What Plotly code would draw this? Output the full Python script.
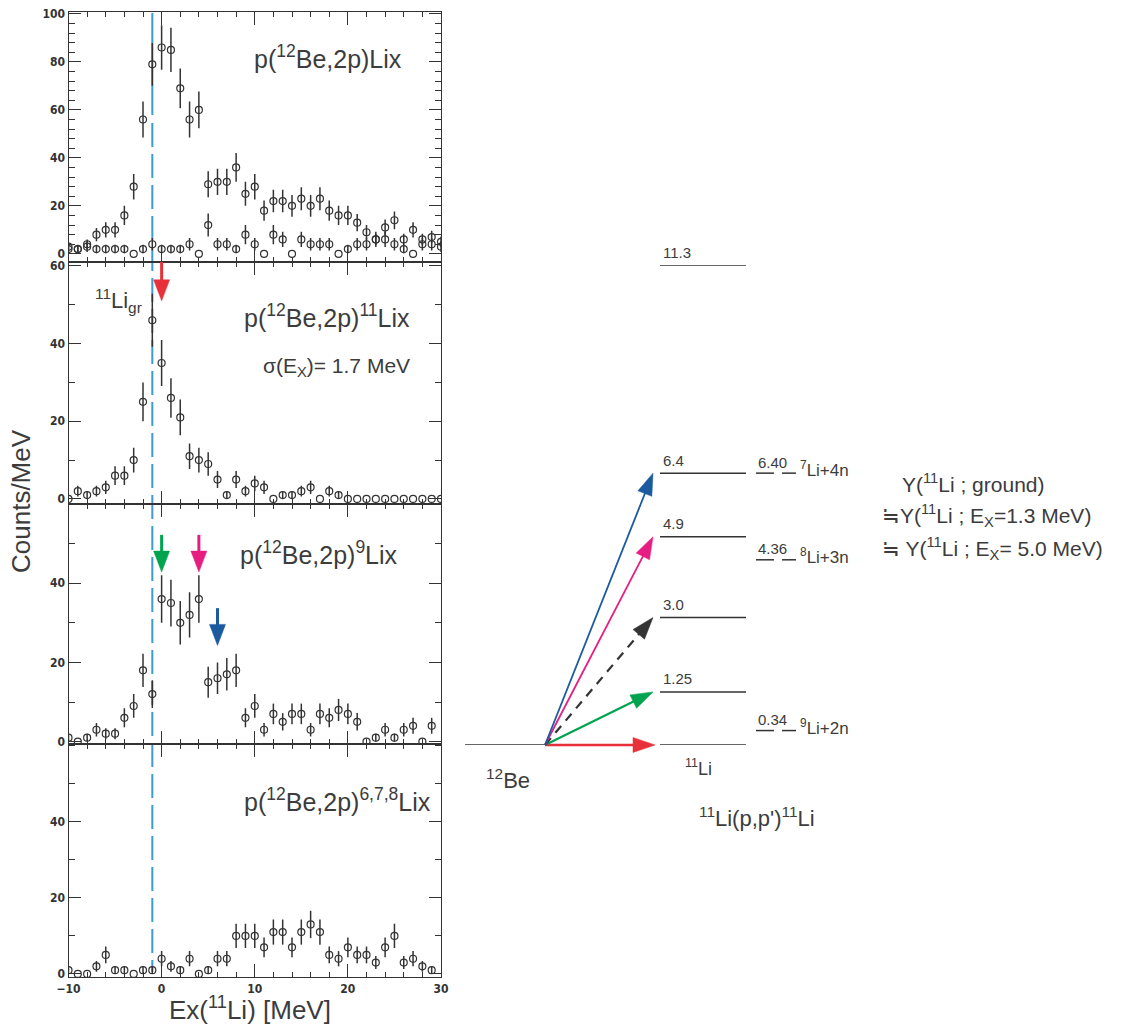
import math
import plotly.graph_objects as go

W, H = 1130, 1026

# ---------------- data ----------------
ex = list(range(-10, 31))

p1_total = [3, 2, 4, 8, 10, 10, 16, 28, 56, 79, 86, 85, 69, 56, 60, 29, 30, 30, 36, 25, 28,
            18, 22, 22, 20, 23, 20, 23, 18, 16, 16, 13, 9, 6, 11, 14, 6, 10, 6, 7, 5]
p1_total_err = [1.7, 1.4, 2.0, 2.8, 3.2, 3.2, 4.0, 5.3, 7.5, 8.9, 9.3, 9.2, 8.3, 7.5, 7.7, 5.4, 5.5,
                5.5, 6.0, 5.0, 5.3, 4.2, 4.7, 4.7, 4.5, 4.8, 4.5, 4.8, 4.2, 4.0, 4.0, 3.6, 3.0, 2.4,
                3.3, 3.7, 2.4, 3.2, 2.4, 2.6, 2.2]
p1_sub = [2, 2, 3, 2, 2, 2, 2, 0, 2, 4, 2, 2, 2, 4, 0, 12, 4, 4, 2, 8, 4,
          0, 8, 6, 0, 6, 4, 4, 4, 0, 2, 4, 4, 6, 6, 4, 2, 0, 4, 4, 3]
p1_sub_err = [1.8, 1.8, 2.2, 1.8, 1.8, 1.8, 1.8, 0, 1.8, 2.6, 1.8, 1.8, 1.8, 2.6, 0, 4.8, 2.6, 2.6,
              1.8, 4.0, 2.6, 0, 4.0, 3.2, 0, 3.2, 2.6, 2.6, 2.6, 0, 1.8, 2.6, 2.6, 3.2, 3.2, 2.6,
              1.8, 0, 2.6, 2.6, 2.2]

p2_vals = [0, 2, 1, 2, 3, 6, 6, 10, 25, 46, 35, 26, 21, 11, 10, 9, 5, 1, 5, 2, 4,
           3, 0, 1, 1, 2, 3, 0, 2, 1, 0, 0, 0, 0, 0, 0, 0, 0, 0, 0, 0]
p2_err = [0, 1.4, 1.0, 1.4, 1.7, 2.4, 2.4, 3.2, 5.0, 6.8, 5.9, 5.1, 4.6, 3.3, 3.2, 3.0, 2.2, 1.0,
          2.2, 1.4, 2.0, 1.7, 0, 1.0, 1.0, 1.4, 1.7, 0, 1.4, 1.0, 0, 0, 0, 0, 0, 0, 0, 0, 0, 0, 0]

p3_vals = [1, 0, 1, 3, 2, 2, 6, 9, 18, 12, 36, 35, 30, 32, 36, 15, 16, 17, 18, 6, 9,
           3, 7, 5, 7, 7, 3, 7, 6, 8, 7, 5, 0, 1, 3, 1, 3, 4, 0, 4, None]
p3_err = [1.0, 0, 1.0, 1.7, 1.4, 1.4, 2.4, 3.0, 4.2, 3.5, 6.0, 5.9, 5.5, 5.7, 6.0, 3.9, 4.0, 4.1,
          4.2, 2.4, 3.0, 1.7, 2.6, 2.2, 2.6, 2.6, 1.7, 2.6, 2.4, 2.8, 2.6, 2.2, 0, 1.0, 1.7, 1.0,
          1.7, 2.0, 0, 2.0, 0]

p4_vals = [1, 0, 0, 2, 5, 1, 1, 0, 1, 1, 4, 2, 1, 4, 0, 1, 4, 4, 10, 10, 10,
           7, 11, 11, 7, 11, 13, 11, 5, 4, 7, 5, 5, 3, 7, 10, 3, 4, 2, 1, None]
p4_err = [1.0, 0, 0, 1.4, 2.2, 1.0, 1.0, 0, 1.0, 1.0, 2.0, 1.4, 1.0, 2.0, 0, 1.0, 2.0, 2.0, 3.2,
          3.2, 3.2, 2.6, 3.3, 3.3, 2.6, 3.3, 3.6, 3.3, 2.2, 2.0, 2.6, 2.2, 2.2, 1.7, 2.6, 3.2,
          1.7, 2.0, 1.4, 1.0, 0]

panel_titles = ["p(<sup>12</sup>Be,2p)Lix", "p(<sup>12</sup>Be,2p)<sup>11</sup>Lix",
                "p(<sup>12</sup>Be,2p)<sup>9</sup>Lix", "p(<sup>12</sup>Be,2p)<sup>6,7,8</sup>Lix"]
y_ticks = [[0, 20, 40, 60, 80, 100], [0, 20, 40, 60], [0, 20, 40], [0, 20, 40]]
x_ticks = [-10, 0, 10, 20, 30]
gs_line_ex = -1.0

levels_11li = [0.0, 1.25, 3.0, 4.9, 6.4, 11.3]
level_labels = ["", "1.25", "3.0", "4.9", "6.4", "11.3"]
thresholds = [0.34, 4.36, 6.40]
threshold_labels = ["0.34", "4.36", "6.40"]
threshold_channels = ["<sup>9</sup>Li+2n", "<sup>8</sup>Li+3n", "<sup>7</sup>Li+4n"]
transition_targets = [0.0, 1.25, 3.0, 4.9, 6.4]

# ---------------- styles / geometry ----------------
RED, GREEN, MAG, BLUE, DARK = "#e8303a", "#00a44e", "#e61e82", "#1b5a9e", "#333333"
LBLUE = "#3d9ad8"
TXT = "#3c3c3c"
FONT = "Liberation Sans, Arial, Helvetica, sans-serif"
TICKFONT = dict(family="DejaVu Sans Condensed, DejaVu Sans, sans-serif", size=12,
                color="#333", weight="bold")

XL, XR = 68.5, 441.0
XR_RANGE = [-10, 30]
# (top_px, bottom_px, yrange, minor dtick)
panels = [
    (12, 262, [-3.4, 100.8], 4),
    (262, 504, [-1.3, 61.0], 10),
    (504, 744, [-0.6, 60.0], 10),
    (744, 977, [-0.8, 60.4], 10),
]

def px(x):
    return x / W

def py(y):
    return 1 - y / H

def xpix(xv):
    return XL + (xv - XR_RANGE[0]) / (XR_RANGE[1] - XR_RANGE[0]) * (XR - XL)

def ypix(yv, i):
    top, bot, rng, _ = panels[i]
    return bot - (yv - rng[0]) / (rng[1] - rng[0]) * (bot - top)

fig = go.Figure()

series = [
    [(p1_total, p1_total_err), (p1_sub, p1_sub_err)],
    [(p2_vals, p2_err)],
    [(p3_vals, p3_err)],
    [(p4_vals, p4_err)],
]
for i, lst in enumerate(series):
    sfx = "" if i == 0 else str(i + 1)
    for vals, errs in lst:
        fig.add_trace(go.Scatter(
            x=ex, y=vals, mode="markers", xaxis="x" + sfx, yaxis="y" + sfx,
            marker=dict(symbol="circle-open", size=7, color="#333", line=dict(width=1.2, color="#333")),
            error_y=dict(type="data", array=errs, visible=True, thickness=1.5, width=0, color="#333"),
            showlegend=False, hoverinfo="skip"))

layout = dict(width=W, height=H, margin=dict(l=0, r=0, t=0, b=0, pad=0, autoexpand=False),
              paper_bgcolor="white", plot_bgcolor="rgba(0,0,0,0)", showlegend=False)

for i, (top, bot, rng, mdt) in enumerate(panels):
    sfx = "" if i == 0 else str(i + 1)
    layout["xaxis" + sfx] = dict(
        domain=[px(XL), px(XR)], range=XR_RANGE, anchor="y" + sfx, automargin=False,
        showline=True, mirror="allticks", linecolor="#333", linewidth=1.3,
        ticks="inside", ticklen=13, tickwidth=1.3, tickcolor="#333",
        tickvals=x_ticks, showgrid=False, zeroline=False,
        showticklabels=(i == 3), tickfont=TICKFONT,
        minor=dict(dtick=2, tick0=0, ticklen=5, tickwidth=1, ticks="inside", tickcolor="#333"))
    layout["yaxis" + sfx] = dict(
        domain=[py(bot), py(top)], range=rng, anchor="x" + sfx, automargin=False,
        showline=True, mirror="allticks", linecolor="#333", linewidth=1.3,
        ticks="inside", ticklen=12, tickwidth=1.3, tickcolor="#333",
        tickvals=y_ticks[i], showgrid=False, zeroline=False, tickfont=TICKFONT,
        minor=dict(dtick=mdt, tick0=0, ticklen=6, tickwidth=1, ticks="inside", tickcolor="#333"))

# level-scheme axes (x in pixel units, y in MeV)
LV0, LV1 = 745, 265
layout["xaxis5"] = dict(domain=[px(463), 1.0], range=[463, 1130], visible=False, anchor="y5",
                        automargin=False)
layout["yaxis5"] = dict(domain=[py(LV0), py(LV1)], range=[0, levels_11li[-1]], visible=False,
                        anchor="x5", automargin=False)

def ylev(E):
    return LV0 - E / levels_11li[-1] * (LV0 - LV1)

# level lines
lx, ly = [], []
for E in levels_11li:
    lx += [660, 746, None]
    ly += [E, E, None]
lx += [465, 545, None]
ly += [0, 0, None]
fig.add_trace(go.Scatter(x=lx, y=ly, mode="lines", xaxis="x5", yaxis="y5",
                         line=dict(color=DARK, width=1.5), showlegend=False, hoverinfo="skip"))
tx, ty = [], []
for E in thresholds:
    tx += [756, 774, None, 782, 796, None]
    ty += [E, E, None, E, E, None]
fig.add_trace(go.Scatter(x=tx, y=ty, mode="lines", xaxis="x5", yaxis="y5",
                         line=dict(color=DARK, width=1.5), showlegend=False, hoverinfo="skip"))

fig.update_layout(**layout)

shapes = []
annotations = []

def arrow(x0, y0, x1, y1, color, width, head_len, head_w, dash="solid"):
    dx, dy = x1 - x0, y1 - y0
    L = math.hypot(dx, dy)
    ux, uy = dx / L, dy / L
    bx, by = x1 - ux * head_len, y1 - uy * head_len
    nx, ny = -uy, ux
    shapes.append(dict(type="line", xref="paper", yref="paper",
                       x0=px(x0), y0=py(y0), x1=px(bx + ux * 2), y1=py(by + uy * 2),
                       line=dict(color=color, width=width, dash=dash), layer="above"))
    pts = [(x1, y1), (bx + nx * head_w / 2, by + ny * head_w / 2), (bx - nx * head_w / 2, by - ny * head_w / 2)]
    path = "M " + " L ".join(f"{px(a):.5f},{py(b):.5f}" for a, b in pts) + " Z"
    shapes.append(dict(type="path", xref="paper", yref="paper", path=path,
                       fillcolor=color, line=dict(color=color, width=0.5), layer="above"))

# blue ground-state line
gx = xpix(gs_line_ex)
shapes.append(dict(type="line", xref="paper", yref="paper", x0=px(gx), x1=px(gx),
                   y0=py(13), y1=py(115), line=dict(color=LBLUE, width=2), layer="below"))
shapes.append(dict(type="line", xref="paper", yref="paper", x0=px(gx), x1=px(gx),
                   y0=py(123), y1=py(972), line=dict(color=LBLUE, width=2, dash="24px,7px"), layer="below"))

# arrows in panels (panel index, Ex, y_top, y_tip, color)
panel_arrows = [(1, 0, 61.0, 51.0, RED), (2, 0, 52.2, 42.8, GREEN),
                (2, 4, 52.2, 42.8, MAG), (2, 6, 33.7, 24.3, BLUE)]
for i, xv, yt, yb, c in panel_arrows:
    arrow(xpix(xv), ypix(yt, i), xpix(xv), ypix(yb, i), c, 3, 21, 16)

# transition arrows in level scheme
OX, OY = 545, ylev(0)
tr_colors = [RED, GREEN, DARK, MAG, BLUE]
tr_widths = [2.5, 2.2, 2.2, 1.8, 1.8]
for E, c, w in zip(transition_targets, tr_colors, tr_widths):
    tipx = 655 if E == 0 else 653
    arrow(OX, OY, tipx, ylev(E), c, w, 22, 15, dash=("9px,7px" if c == DARK else "solid"))

def text(t, x, y, size, xanchor="center", yanchor="middle", angle=0, color=TXT):
    annotations.append(dict(text=t, x=px(x), y=py(y), xref="paper", yref="paper",
                            xanchor=xanchor, yanchor=yanchor, textangle=angle, showarrow=False,
                            font=dict(family=FONT, size=size, color=color)))

# panel texts
text(panel_titles[0], 404, 57, 25, xanchor="right")
text(panel_titles[1], 412, 316, 25, xanchor="right")
text("σ(E<sub>X</sub>)= 1.7 MeV", 412, 367, 21, xanchor="right")
text("<sup>11</sup>Li<sub>gr</sub>", 93, 300, 22, xanchor="left")
text(panel_titles[2], 400, 553, 25, xanchor="right")
text(panel_titles[3], 433, 800, 25, xanchor="right")

# axis titles
text("Counts/MeV", 21, 501, 26, angle=-90)
text("Ex(<sup>11</sup>Li) [MeV]", 250, 1008, 26)

# level scheme labels
for E, lab in zip(levels_11li, level_labels):
    if lab:
        text(lab, 661, ylev(E) - 13, 15, xanchor="left")
for E, lab, ch in zip(thresholds, threshold_labels, threshold_channels):
    text(lab, 756, ylev(E) - 11, 15, xanchor="left")
    text(ch, 798, ylev(E) - 4, 17, xanchor="left")
text("<sup>11</sup>Li", 698, 767, 18)
text("<sup>12</sup>Be", 508, 779, 22)
text("<sup>11</sup>Li(p,p')<sup>11</sup>Li", 757, 817, 22)

text("Y(<sup>11</sup>Li ; ground)", 900, 483, 21, xanchor="left")
text("≒Y(<sup>11</sup>Li ; E<sub>X</sub>=1.3 MeV)", 880, 515, 21, xanchor="left")
text("≒ Y(<sup>11</sup>Li ; E<sub>X</sub>= 5.0 MeV)", 880, 548, 21, xanchor="left")

fig.update_layout(shapes=shapes, annotations=annotations)
fig.write_html("out.html", config={"displayModeBar": False},
               post_script="document.body.style.margin='0';document.body.style.overflow='hidden';")
